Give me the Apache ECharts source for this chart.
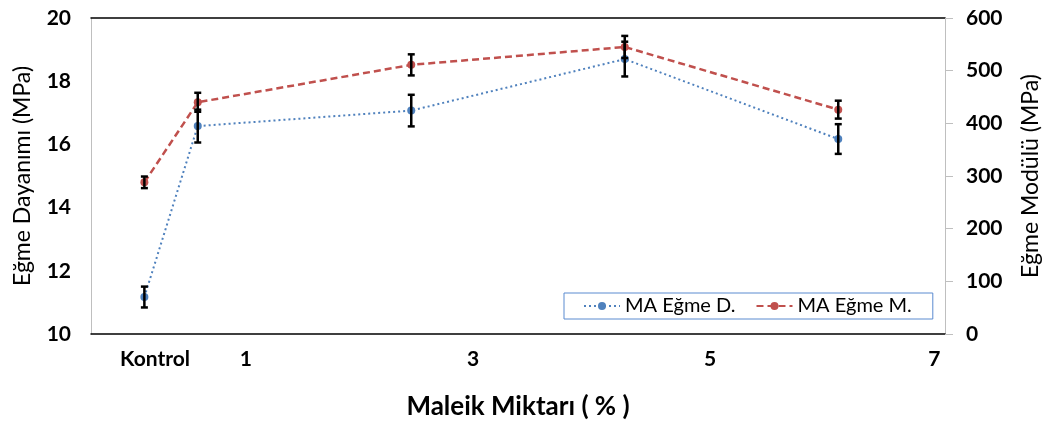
<!DOCTYPE html>
<html>
<head>
<meta charset="utf-8">
<script src="https://cdn.jsdelivr.net/npm/echarts@6/dist/echarts.min.js"></script>
<style>html,body{margin:0;padding:0;background:#fff;}#c{width:1053px;height:428px;}</style>
</head>
<body>
<div id="c"></div>
<script>
// Maleic amount (%) for each sample; Kontrol is plotted at 0.5
const xValues = [0.5, 1, 3, 5, 7];
const strengthValues = [11.17, 16.58, 17.07, 18.70, 16.17];   // MA Eğme D. (MPa, left)
const strengthErrors = [0.33, 0.52, 0.50, 0.55, 0.47];
const modulusValues = [288, 440, 511, 545, 426];               // MA Eğme M. (MPa, right)
const modulusErrors = [11, 18, 20, 21, 17];
const tickLabels = ['Kontrol', '1', '3', '5', '7'];
const tickLabelValues = [0.6, 1.45, 3.58, 5.8, 7.9];

const FONT = 'Lato';
const blue = '#4f81bd';
const red = '#c0504d';

function pts(vals) { return vals.map((v, i) => [xValues[i], v]); }
function errData(vals, errs) { return vals.map((v, i) => [xValues[i], v - errs[i], v + errs[i]]); }

function errRender(params, api) {
  const x = api.value(0);
  const lo = api.coord([x, api.value(1)]);
  const hi = api.coord([x, api.value(2)]);
  const w = 3.5;
  const style = { stroke: '#000', lineWidth: 2.5 };
  return {
    type: 'group',
    children: [
      { type: 'line', shape: { x1: lo[0], y1: lo[1], x2: hi[0], y2: hi[1] }, style },
      { type: 'line', shape: { x1: lo[0] - w, y1: lo[1], x2: lo[0] + w, y2: lo[1] }, style },
      { type: 'line', shape: { x1: hi[0] - w, y1: hi[1], x2: hi[0] + w, y2: hi[1] }, style }
    ]
  };
}

const chart = echarts.init(document.getElementById('c'));
chart.setOption({
  animation: false,
  textStyle: { fontFamily: FONT },
  grid: { left: 91, right: 108, top: 18, bottom: 94 },
  legend: {
    left: 564, top: 293,
    padding: [3, 21, 3, 19],
    itemWidth: 36, itemHeight: 10, itemGap: 20,
    borderColor: '#5b8bd0', borderWidth: 1, backgroundColor: '#fff',
    textStyle: { fontFamily: FONT, fontSize: 20, color: '#000' },
    data: ['MA Eğme D.', 'MA Eğme M.']
  },
  xAxis: [{
    type: 'value', min: 0, max: 8, position: 'bottom',
    name: 'Maleik Miktarı ( % )', nameLocation: 'middle', nameGap: 60,
    nameTextStyle: { fontFamily: FONT, fontSize: 26, fontWeight: 'bold', color: '#000' },
    axisLine: { show: true, onZero: false, lineStyle: { color: '#000', width: 1.5 } },
    axisTick: { show: false },
    splitLine: { show: false },
    axisLabel: {
      customValues: tickLabelValues,
      formatter: v => { const i = tickLabelValues.findIndex(t => Math.abs(t - v) < 1e-6); return i >= 0 ? tickLabels[i] : ''; },
      fontFamily: FONT, fontSize: 21, fontWeight: 'bold', color: '#000', margin: 15
    }
  }, {
    type: 'value', min: 0, max: 8, position: 'top',
    axisLine: { show: true, onZero: false, lineStyle: { color: '#000', width: 1.5 } },
    axisTick: { show: false }, axisLabel: { show: false }, splitLine: { show: false }
  }],
  yAxis: [{
    type: 'value', min: 10, max: 20, interval: 2, position: 'left',
    name: 'Eğme Dayanımı (MPa)', nameLocation: 'middle', nameGap: 57, nameRotate: 90,
    nameTextStyle: { fontFamily: FONT, fontSize: 23, color: '#000' },
    axisLine: { show: true, onZero: false, lineStyle: { color: '#bfbfbf', width: 1 } },
    axisTick: { show: false }, splitLine: { show: false },
    axisLabel: { fontFamily: FONT, fontSize: 21, fontWeight: 'bold', color: '#000', margin: 20 }
  }, {
    type: 'value', min: 0, max: 600, interval: 100, position: 'right',
    name: 'Eğme Modülü (MPa)', nameLocation: 'middle', nameGap: 74, nameRotate: 90,
    nameTextStyle: { fontFamily: FONT, fontSize: 23, color: '#000' },
    axisLine: { show: true, onZero: false, lineStyle: { color: '#bfbfbf', width: 1 } },
    axisTick: { show: true, inside: false, length: 8, lineStyle: { color: '#bfbfbf' } },
    splitLine: { show: false },
    axisLabel: { fontFamily: FONT, fontSize: 21, fontWeight: 'bold', color: '#000', margin: 21 }
  }],
  series: [{
    name: 'MA Eğme D.', type: 'line', xAxisIndex: 0, yAxisIndex: 0,
    data: pts(strengthValues), symbol: 'circle', symbolSize: 8,
    lineStyle: { color: blue, width: 2, type: [2, 3] }, itemStyle: { color: blue }, z: 3
  }, {
    name: 'MA Eğme M.', type: 'line', xAxisIndex: 0, yAxisIndex: 1,
    data: pts(modulusValues), symbol: 'circle', symbolSize: 8,
    lineStyle: { color: red, width: 2.5, type: [7, 4] }, itemStyle: { color: red }, z: 3
  }, {
    type: 'custom', xAxisIndex: 0, yAxisIndex: 0, renderItem: errRender,
    data: errData(strengthValues, strengthErrors), z: 4, silent: true
  }, {
    type: 'custom', xAxisIndex: 0, yAxisIndex: 1, renderItem: errRender,
    data: errData(modulusValues, modulusErrors), z: 4, silent: true
  }]
});
</script>
</body>
</html>
